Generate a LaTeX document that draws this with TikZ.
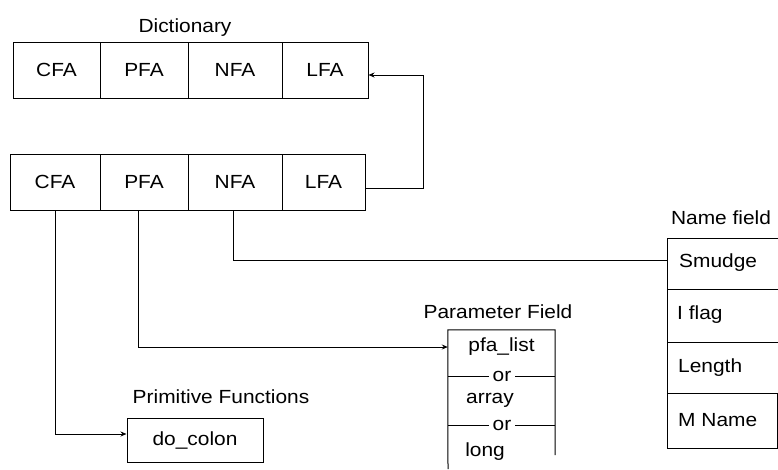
\documentclass[tikz,border=0pt]{standalone}
\usepackage{fontspec}
\setmainfont{Liberation Sans}[FakeStretch=1.1]
\usetikzlibrary{arrows.meta}
\begin{document}
\begin{tikzpicture}[x=1pt,y=-1pt,
  lbl/.style={font=\fontsize{19}{21}\selectfont, inner sep=0pt},
  cell/.style={draw, line width=1pt, minimum height=56pt, inner sep=0pt, font=\fontsize{19}{21}\selectfont},
  link/.style={line width=1pt},
  arr/.style={line width=1pt, -{Stealth[length=6pt,width=5pt]}},
  ortext/.style={font=\fontsize{19}{21}\selectfont, fill=white, inner xsep=4pt, inner ysep=0pt}]
\useasboundingbox[fill=white] (0,0) rectangle (778,469);

% top dictionary entry
\node[lbl] (dict) at (185,28) {Dictionary};
\node[cell, minimum width=87pt] (t1) at (56.5,70) {CFA};
\node[cell, minimum width=88pt] (t2) at (144,70) {PFA};
\node[cell, minimum width=94pt] (t3) at (235,70) {NFA};
\node[cell, minimum width=86pt] (t4) at (325,70) {LFA};

% second dictionary entry
\node[cell, minimum width=90pt] (b1) at (55,182) {CFA};
\node[cell, minimum width=88pt] (b2) at (144,182) {PFA};
\node[cell, minimum width=94pt] (b3) at (235,182) {NFA};
\node[cell, minimum width=83pt] (b4) at (323.5,182) {LFA};

% link field
\coordinate (lk) at (423,75);
\draw[arr] ([yshift=-6pt]b4.east) -| (lk) -- (t4.east |- lk);

% primitive functions
\node[lbl] (primt) at (221,397) {Primitive Functions};
\node[cell, minimum width=136pt, minimum height=44pt] (dc) at (195,440) {do\_colon};
\draw[arr] (b1.south) |- ([yshift=6pt]dc.west);

% parameter field
\node[lbl] (paramt) at (498,312) {Parameter Field};
\node[lbl, minimum width=107pt, minimum height=34pt] (pfbox) at (501.5,347) {pfa\_list};
\draw[link] (448,469) -- (pfbox.north west) -- (pfbox.north east) -- (555,455);
\draw[link] (448,376) -- (555,376);
\draw[link] (448,425) -- (555,425);
\node[ortext] (or1) at (502,376) {or};
\node[ortext] (or2) at (502,425) {or};
\node[lbl] (arr1) at (490,400) {array};
\node[lbl] (long1) at (485,452) {long};
\draw[arr] ([xshift=-6pt]b2.south) |- (pfbox.west);

% name field
\node[lbl] (namet) at (721,218) {Name field};
\draw[link] (778,238) -- (667,238) -- (667,448) -- (778,448);
\draw[link] (667,289) -- (778,289);
\draw[link] (667,342) -- (778,342);
\draw[link] (667,393) -- (778,393);
\draw[link] (777,393) -- (777,448);
\node[lbl, anchor=west] (n1) at (679,263) {Smudge};
\node[lbl, anchor=west] (n2) at (677,315) {I flag};
\node[lbl, anchor=west] (n3) at (678,368) {Length};
\node[lbl, anchor=west] (n4) at (678,420) {M Name};
\coordinate (nfin) at (667,260);
\draw[link] ([xshift=-2pt]b3.south) |- (nfin);
\end{tikzpicture}
\end{document}
